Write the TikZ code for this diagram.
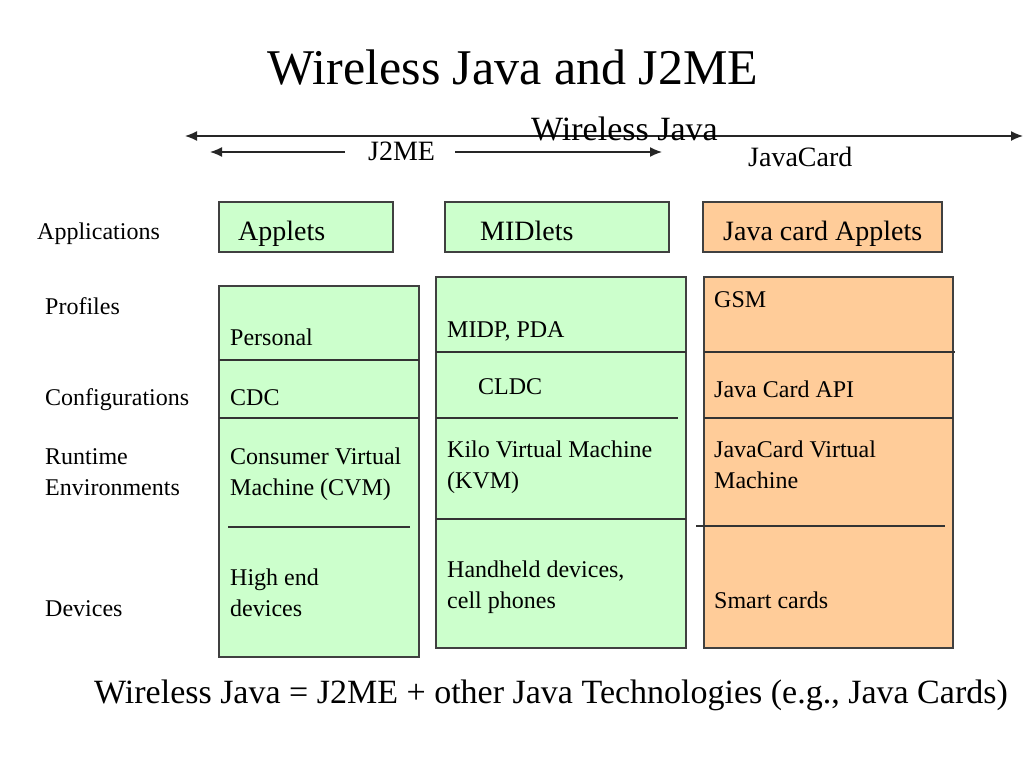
\documentclass[tikz,border=0pt]{standalone}
\usepackage{fontspec}
\setmainfont{Liberation Serif}
\usetikzlibrary{arrows.meta, positioning}
\definecolor{cellgreen}{HTML}{CCFFCC}
\definecolor{cellorange}{HTML}{FFCC99}

\begin{document}
\begin{tikzpicture}[x=1pt, y=-1pt,
    cell/.style={rectangle, draw=black!75, line width=1.1pt, inner sep=0pt, outer sep=0pt, anchor=north west},
    divider/.style={draw=black!80, line width=1.1pt},
    lbl/.style={anchor=base west, inner sep=0pt, align=left, font=\fontsize{24}{30.5}\selectfont},
    apptext/.style={anchor=base west, inner sep=0pt, font=\fontsize{28}{34}\selectfont},
    arr/.style={-{Latex[length=12pt, width=10pt]}, line width=1.4pt, color=black!85},
    dblarr/.style={{Latex[length=12pt, width=10pt]}-{Latex[length=12pt, width=10pt]}, line width=1.4pt, color=black!85}
]
\useasboundingbox (0,0) rectangle (1024,768);

\node[anchor=base, inner sep=0pt, font=\fontsize{50}{60}\selectfont] (title) at (513,84) {Wireless Java and J2ME};

% scope arrows
\coordinate (wjleft) at (185,136);
\coordinate (wjright) at (1023,136);
\draw[dblarr] (wjleft) -- (wjright);
\node[anchor=base west, inner sep=0pt, font=\fontsize{34}{40}\selectfont] (wjava) at (531,140) {Wireless Java};

\node[anchor=base west, inner sep=0pt, font=\fontsize{28}{34}\selectfont] (j2me) at (368,160) {J2ME};
\coordinate (jleft) at (210,152);
\coordinate (jright) at (662,152);
\coordinate (jgapl) at (345,152);
\coordinate (jgapr) at (455,152);
\draw[arr] (jgapl) -- (jleft);
\draw[arr] (jgapr) -- (jright);
\node[anchor=base west, inner sep=0pt, font=\fontsize{28}{34}\selectfont] (jcard) at (748,166) {JavaCard};

% row labels
\node[lbl] (lapps) at (37,239) {Applications};
\node[lbl] (lprof) at (45,314) {Profiles};
\node[lbl] (lconf) at (45,405) {Configurations};
\node[lbl] (lrun) at (45,495) {Runtime\\Environments};
\node[lbl] (ldev) at (45,616) {Devices};

% applications
\node[cell, fill=cellgreen, minimum width=174pt, minimum height=50pt] (applets) at (219,202) {};
\node[cell, fill=cellgreen, minimum width=224pt, minimum height=50pt] (midlets) at (445,202) {};
\node[cell, fill=cellorange, minimum width=239pt, minimum height=50pt] (cardapps) at (703,202) {};
\node[apptext] (tapplets) at (238,240) {Applets};
\node[apptext] (tmidlets) at (480,240) {MIDlets};
\node[apptext] (tcardapps) at (723,240) {Java card Applets};

% stacks
\node[cell, fill=cellgreen, minimum width=200pt, minimum height=371pt] (cdcstack) at (219,286) {};
\node[cell, fill=cellgreen, minimum width=250pt, minimum height=371pt] (cldcstack) at (436,277) {};
\node[cell, fill=cellorange, minimum width=249pt, minimum height=371pt] (cardstack) at (704,277) {};

\draw[divider] (219,360) -- (419,360);
\draw[divider] (219,418) -- (419,418);
\draw[divider] (228,527) -- (410,527);
\draw[divider] (436,352) -- (686,352);
\draw[divider] (436,418) -- (678,418);
\draw[divider] (436,519) -- (686,519);
\draw[divider] (704,352) -- (955,352);
\draw[divider] (704,418) -- (953,418);
\draw[divider] (696,526) -- (945,526);

\node[lbl] (personal) at (230,345) {Personal};
\node[lbl] (cdc) at (230,405) {CDC};
\node[lbl] (cvm) at (230,495) {Consumer Virtual\\Machine (CVM)};
\node[lbl] (highend) at (230,616) {High end\\devices};

\node[lbl] (midp) at (447,337) {MIDP, PDA};
\node[lbl] (cldc) at (478,394) {CLDC};
\node[lbl] (kvm) at (447,488) {Kilo Virtual Machine\\(KVM)};
\node[lbl] (handheld) at (447,608) {Handheld devices,\\cell phones};

\node[lbl] (gsm) at (714,307) {GSM};
\node[lbl] (cardapi) at (714,397) {Java Card API};
\node[lbl] (jcvm) at (714,488) {JavaCard Virtual\\Machine};
\node[lbl] (smart) at (714,608) {Smart cards};

\node[anchor=base, inner sep=0pt, font=\fontsize{34}{40}\selectfont] (summary) at (551,703) {Wireless Java = J2ME + other Java Technologies (e.g., Java Cards)};
\end{tikzpicture}
\end{document}
